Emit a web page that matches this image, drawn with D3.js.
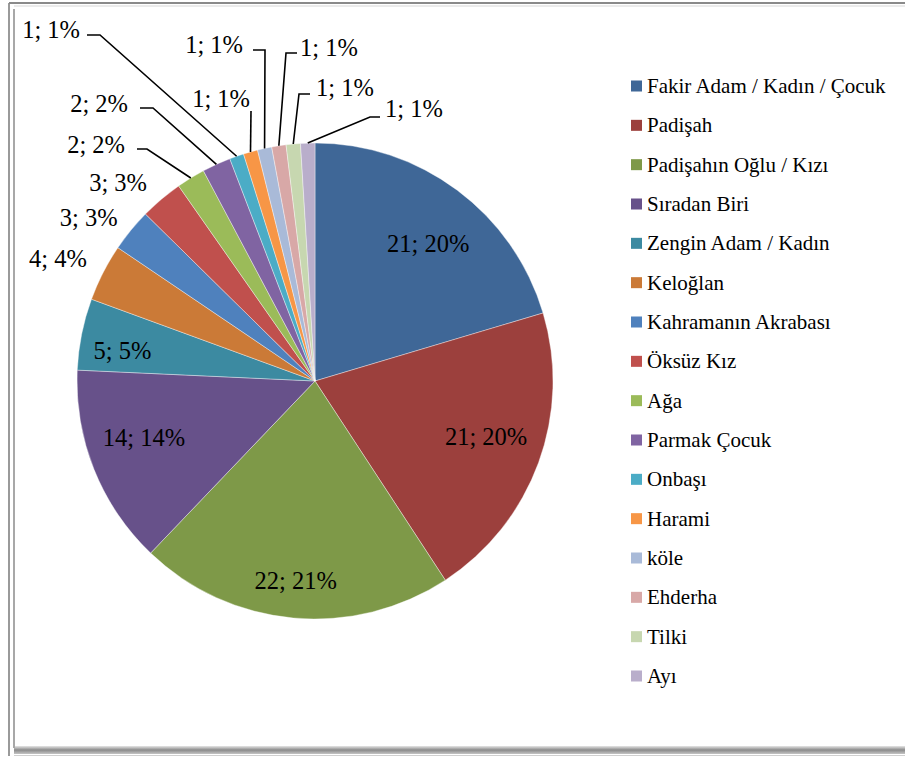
<!DOCTYPE html>
<html lang="tr">
<head>
	<meta charset="UTF-8">
	<title>Pie</title>
	<script src="https://cdnjs.cloudflare.com/ajax/libs/d3/7.8.5/d3.min.js"></script>
	<style>
		*{margin:0;padding:0;}
		body{background:#fff;}
		.leader{fill:none;stroke:#000;stroke-width:1.6;}
	</style>
</head>
<body>
	<div id="container"></div>
<script>
	var categories=['Fakir Adam / Kadın / Çocuk','Padişah','Padişahın Oğlu / Kızı','Sıradan Biri',
		'Zengin Adam / Kadın','Keloğlan','Kahramanın Akrabası','Öksüz Kız','Ağa','Parmak Çocuk',
		'Onbaşı','Harami','köle','Ehderha','Tilki','Ayı']
	var values=[21,21,22,14,5,4,3,3,2,2,1,1,1,1,1,1]
	var percents=[20,20,21,14,5,4,3,3,2,2,1,1,1,1,1,1]
	var colors=['#3f6797','#9c403d','#7e9948','#67518a','#3c8aa1','#cb7a37',
		'#4f81bd','#c0504d','#9bbb59','#8064a2','#4bacc6','#f79646',
		'#a9bad8','#d8a8a7','#c7d7b0','#b9aecb']

	// label placement for slices 0-7: [distance from centre, angle shift in degrees]
	var labelPolar=[[178,2.8],[180,-2],[200,0.3],[180,3.7],[195,-2.3],[285,-1.5],[279,-3.5],[280,-4.5]]
	// callouts for small slices: text [x, baseline, anchor], leader start and elbow
	var callouts={
		8:{t:[125,153,'end'],s:[137,149],e:[147,149]},
		9:{t:[128,112,'end'],s:[140,108],e:[153,108]},
		10:{t:[80,38,'end'],s:[87,35],e:[100,35]},
		11:{t:[250,107,'end'],s:[251,111],e:[251,111]},
		12:{t:[243,53,'end'],s:[253,50],e:[265,50]},
		13:{t:[300,56,'start'],s:[297,53],e:[286,53]},
		14:{t:[316,96,'start'],s:[310,94],e:[299,94]},
		15:{t:[385,117,'start'],s:[380,117],e:[370,117]}
	}

	var FONT="'Liberation Serif', 'Times New Roman', Tinos, 'DejaVu Serif', 'Noto Serif', serif"

	var width=905,height=758,
	cx=315,cy=381,r=238

	var svg=d3.select('#container').append('svg')
	.attr('width',width).attr('height',height)
	.attr('font-family',FONT)

	// chart frame with shadow
	var defs=svg.append('defs')
	var grad=defs.append('linearGradient').attr('id','shadow').attr('x1',0).attr('y1',0).attr('x2',0).attr('y2',1)
	grad.append('stop').attr('offset','0%').attr('stop-color','#e6e6e6')
	grad.append('stop').attr('offset','50%').attr('stop-color','#8a8a8a')
	grad.append('stop').attr('offset','100%').attr('stop-color','#c4c4c4')

	svg.append('rect').attr('x',14).attr('y',746).attr('width',width).attr('height',8).attr('fill','url(#shadow)')
	svg.append('line').attr('x1',14).attr('x2',width).attr('y1',755.5).attr('y2',755.5).attr('stroke','#d0d0d0').attr('stroke-width',1)
	svg.append('line').attr('x1',9).attr('x2',9).attr('y1',3).attr('y2',756).attr('stroke','#9a9a9a').attr('stroke-width',2)
	svg.append('line').attr('x1',14).attr('x2',14).attr('y1',9).attr('y2',748).attr('stroke','#a8a8a8').attr('stroke-width',2)
	svg.append('line').attr('x1',9).attr('x2',width).attr('y1',3).attr('y2',3).attr('stroke','#8a8a8a').attr('stroke-width',2)
	svg.append('line').attr('x1',14).attr('x2',width).attr('y1',6).attr('y2',6).attr('stroke','#e4e4e4').attr('stroke-width',1.5)

	var pie=d3.pie().sort(null).value(function(d){return d})
	var arcs=pie(values)

	var arc=d3.arc().innerRadius(0).outerRadius(r)
	var edgeArc=d3.arc().innerRadius(r).outerRadius(r)

	var g=svg.append('g').attr('transform','translate('+cx+','+cy+')')

	g.selectAll('path.slice').data(arcs).enter()
	.append('path').attr('class','slice')
	.attr('d',arc)
	.attr('fill',function(d,i){return colors[i]})
	.attr('stroke','rgba(255,255,255,0.55)')
	.attr('stroke-width',0.7)

	function labelText(i){return values[i]+'; '+percents[i]+'%'}

	// inside and outside labels
	arcs.forEach(function(d,i){
		if(!labelPolar[i]) return
		var mid=(d.startAngle+d.endAngle)/2+labelPolar[i][1]*Math.PI/180
		var p=d3.pointRadial(mid,labelPolar[i][0])
		g.append('text')
		.attr('x',p[0]).attr('y',p[1])
		.attr('dy','0.35em')
		.attr('text-anchor','middle')
		.attr('font-family',FONT)
		.attr('font-size',24.5)
		.text(labelText(i))
	})

	// callouts with leader lines
	arcs.forEach(function(d,i){
		var c=callouts[i]
		if(!c) return
		var a=edgeArc.centroid(d)
		var pts=[c.s,c.e,[a[0]+cx,a[1]+cy]]
		svg.append('path').attr('class','leader').attr('d',d3.line()(pts))
		svg.append('text')
		.attr('x',c.t[0]).attr('y',c.t[1])
		.attr('text-anchor',c.t[2])
		.attr('font-family',FONT)
		.attr('font-size',24.5)
		.text(labelText(i))
	})

	// legend
	var legendY=d3.scalePoint().domain(categories).range([86,676])
	var legend=svg.append('g')
	var item=legend.selectAll('g').data(categories).enter().append('g')
	.attr('transform',function(d){return 'translate(631,'+legendY(d)+')'})
	item.append('rect').attr('x',0).attr('y',-5.5).attr('width',11).attr('height',11)
	.attr('fill',function(d,i){return colors[i]})
	item.append('text').attr('x',16).attr('dy','0.33em')
	.attr('font-family',FONT)
	.attr('font-size',21)
	.text(function(d){return d})
</script>
</body>
</html>
